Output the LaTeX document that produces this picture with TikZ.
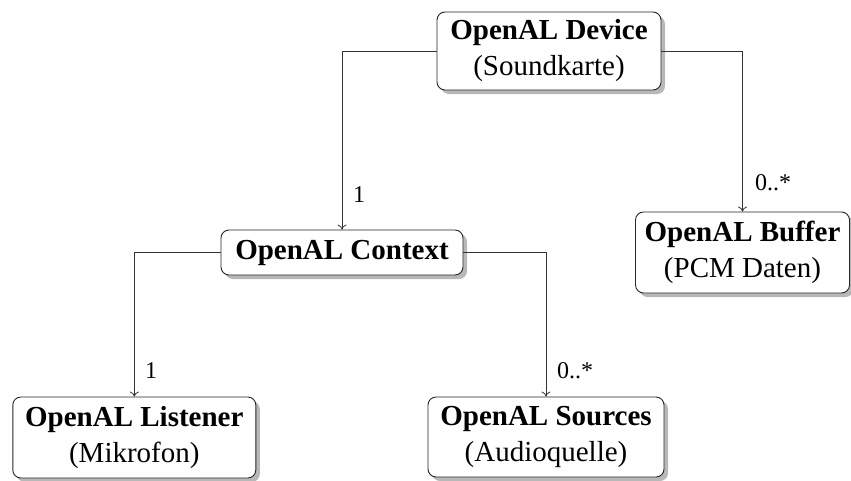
\documentclass[tikz,border=0pt]{standalone}
\usepackage{fontspec}
\setmainfont{Liberation Serif}
\usetikzlibrary{shadows,arrows.meta}
\begin{document}
\begin{tikzpicture}[x=1pt,y=-1pt,
  box/.style={draw=black!85, line width=0.9pt, rounded corners=8pt, fill=white,
    align=center, inner sep=0pt, font=\fontsize{29}{36}\selectfont,
    drop shadow={shadow xshift=4pt, shadow yshift=-4pt, opacity=1, fill=black!28}},
  conn/.style={draw=black!80, line width=0.8pt, -{To[length=5pt,width=9pt]}},
  mult/.style={font=\fontsize{24}{28}\selectfont, anchor=base west, inner sep=0pt}]
\useasboundingbox (0,0) rectangle (851,480);
\node[box, minimum width=224pt, minimum height=78pt] (dev) at (549,51)
  {\textbf{OpenAL Device}\\(Soundkarte)};
\node[box, minimum width=242pt, minimum height=45pt] (ctx) at (342,252.5)
  {\textbf{OpenAL Context}};
\node[box, minimum width=214pt, minimum height=81pt] (buf) at (742.5,252.5)
  {\textbf{OpenAL Buffer}\\(PCM Daten)};
\node[box, minimum width=243pt, minimum height=81pt] (lis) at (134.3,437.5)
  {\textbf{OpenAL Listener}\\(Mikrofon)};
\node[box, minimum width=236pt, minimum height=80pt] (src) at (546,437)
  {\textbf{OpenAL Sources}\\(Audioquelle)};
\draw[conn] (dev.west) -| (ctx.north);
\draw[conn] (dev.east) -| (buf.north);
\draw[conn] (ctx.west) -| (lis.north);
\draw[conn] (ctx.east) -| (src.north);
\node[mult] (m1) at (353,202) {1};
\node[mult] (m2) at (755,190) {0..*};
\node[mult] (m3) at (145,378) {1};
\node[mult] (m4) at (557,378) {0..*};
\end{tikzpicture}
\end{document}
